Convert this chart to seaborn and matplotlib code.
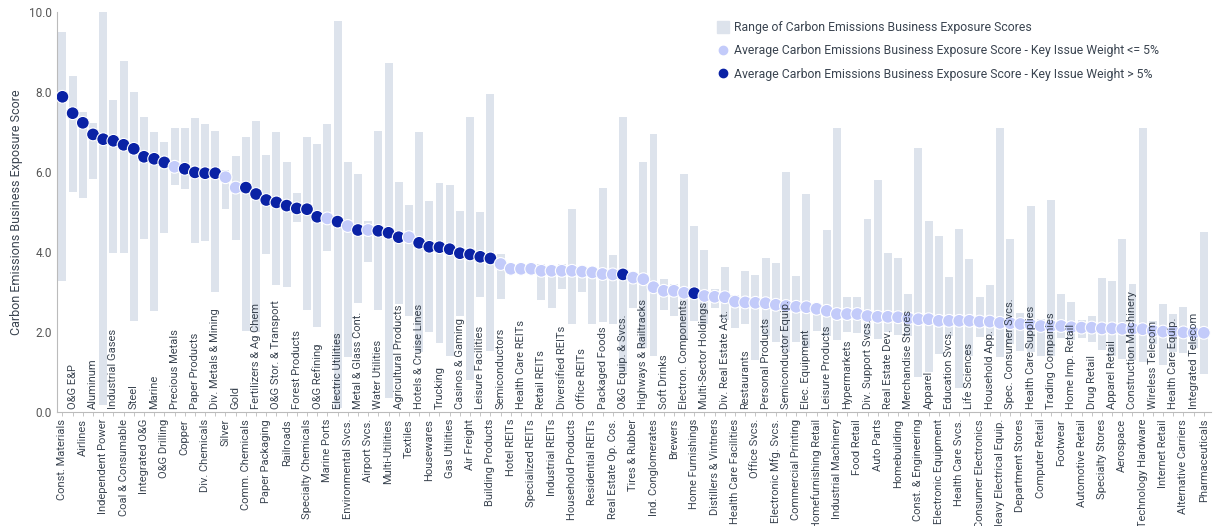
import numpy as np
import pandas as pd
import matplotlib
matplotlib.use("Agg")
import matplotlib.pyplot as plt
import matplotlib.transforms as mtransforms
from matplotlib.lines import Line2D
import seaborn as sns

# industries, in chart order (sorted by average score)
industries = [
    "Const. Materials", "O&G E&P", "Airlines", "Aluminum", "Independent Power",
    "Industrial Gases", "Coal & Consumable", "Steel", "Integrated O&G", "Marine",
    "O&G Drilling", "Precious Metals", "Copper", "Paper Products", "Div. Chemicals",
    "Div. Metals & Mining", "Silver", "Gold", "Comm. Chemicals", "Fertilizers & Ag Chem",
    "Paper Packaging", "O&G Stor. & Transport", "Railroads", "Forest Products",
    "Specialty Chemicals", "O&G Refining", "Marine Ports", "Electric Utilities",
    "Environmental Svcs.", "Metal & Glass Cont.", "Airport Svcs.", "Water Utilities",
    "Multi-Utilities", "Agricultural Products", "Textiles", "Hotels & Cruise Lines",
    "Housewares", "Trucking", "Gas Utilities", "Casinos & Gaming", "Air Freight",
    "Leisure Facilities", "Building Products", "Semiconductors", "Hotel REITs",
    "Health Care REITs", "Specialized REITs", "Retail REITs", "Industrial REITs",
    "Diversified REITs", "Household Products", "Office REITs", "Residential REITs",
    "Packaged Foods", "Real Estate Op. Cos.", "O&G Equip. & Svcs.", "Tires & Rubber",
    "Highways & Railtracks", "Ind. Conglomerates", "Soft Drinks", "Brewers",
    "Electron. Components", "Home Furnishings", "Multi-Sector Holdings",
    "Distillers & Vintners", "Div. Real Estate Act.", "Health Care Facilities",
    "Restaurants", "Office Svcs.", "Personal Products", "Electronic Mfg. Svcs.",
    "Semiconductor Equip.", "Commercial Printing", "Elec. Equipment",
    "Homefurnishing Retail", "Leisure Products", "Industrial Machinery", "Hypermarkets",
    "Food Retail", "Div. Support Svcs.", "Auto Parts", "Real Estate Dev.", "Homebuilding",
    "Merchandise Stores", "Const. & Engineering", "Apparel", "Electronic Equipment",
    "Education Svcs.", "Health Care Svcs.", "Life Sciences", "Consumer Electronics",
    "Household App.", "Heavy Electrical Equip.", "Spec. Consumer Svcs.",
    "Department Stores", "Health Care Supplies", "Computer Retail", "Trading Companies",
    "Footwear", "Home Imp. Retail", "Automotive Retail", "Drug Retail", "Specialty Stores",
    "Apparel Retail", "Aerospace", "Construction Machinery", "Technology Hardware",
    "Wireless Telecom", "Internet Retail", "Health Care Equip.", "Alternative Carriers",
    "Integrated Telecom", "Pharmaceuticals",
]

range_low = [
    3.28, 5.51, 5.36, 5.83, 0.18, 3.98, 3.97, 2.28, 4.33, 2.53,
    4.47, 5.68, 5.57, 4.23, 4.28, 3.01, 5.08, 4.30, 2.03, 2.00,
    3.95, 3.18, 3.12, 4.75, 2.55, 2.13, 4.03, 0.10, 1.37, 2.72,
    3.74, 2.55, 0.34, 2.70, 2.41, 1.50, 2.00, 1.73, 1.40, 2.40,
    0.80, 2.88, 1.53, 2.83, 3.50, 3.50, 3.48, 2.80, 2.59, 3.08,
    2.19, 2.99, 2.19, 2.24, 2.19, 1.00, 2.60, 1.60, 1.40, 2.55,
    2.41, 1.80, 2.28, 2.20, 2.60, 2.30, 2.09, 2.20, 1.30, 1.90,
    1.74, 1.50, 1.76, 1.60, 2.03, 1.90, 1.80, 2.00, 1.97, 1.90,
    1.83, 2.00, 1.93, 1.90, 0.88, 1.00, 1.46, 1.90, 0.59, 1.40,
    1.88, 1.90, 1.37, 1.70, 1.52, 1.50, 1.39, 1.40, 1.84, 1.80,
    1.84, 1.76, 1.54, 1.40, 1.33, 1.30, 1.24, 1.70, 1.18, 1.50,
    1.47, 1.60, 0.95,
]

range_high = [
    9.49, 8.40, 7.50, 7.23, 10.0, 7.80, 8.78, 8.00, 7.38, 7.00,
    6.76, 7.10, 7.10, 7.36, 7.20, 7.03, 6.05, 6.39, 6.88, 7.28,
    6.43, 6.99, 6.26, 5.48, 6.88, 6.70, 7.20, 9.78, 6.24, 5.95,
    4.78, 7.03, 8.72, 5.74, 5.18, 6.99, 5.27, 5.73, 5.68, 5.03,
    7.38, 5.00, 7.95, 3.95, 3.65, 3.65, 3.66, 3.70, 3.62, 3.70,
    5.07, 3.60, 3.60, 5.61, 3.93, 7.38, 3.51, 6.26, 6.95, 3.33,
    3.20, 5.95, 4.65, 4.05, 3.07, 3.62, 2.93, 3.53, 3.43, 3.86,
    3.72, 6.01, 3.41, 5.44, 2.73, 4.55, 7.11, 2.88, 2.88, 4.83,
    5.79, 3.97, 3.84, 2.94, 6.59, 4.78, 4.40, 3.37, 4.57, 3.82,
    2.88, 3.18, 7.09, 4.33, 2.48, 5.16, 2.32, 5.30, 2.95, 2.74,
    2.30, 2.40, 3.36, 3.28, 4.33, 3.20, 7.11, 2.28, 2.70, 2.45,
    2.62, 2.10, 4.49,
]

avg_score = [
    7.88, 7.47, 7.23, 6.94, 6.82, 6.78, 6.68, 6.58, 6.38, 6.33,
    6.24, 6.13, 6.08, 5.99, 5.97, 5.97, 5.87, 5.61, 5.61, 5.45,
    5.30, 5.24, 5.16, 5.09, 5.07, 4.88, 4.84, 4.76, 4.65, 4.55,
    4.55, 4.53, 4.48, 4.37, 4.37, 4.23, 4.13, 4.12, 4.07, 3.97,
    3.94, 3.88, 3.84, 3.70, 3.58, 3.58, 3.58, 3.53, 3.53, 3.53,
    3.53, 3.51, 3.49, 3.45, 3.44, 3.44, 3.36, 3.32, 3.12, 3.03,
    3.03, 2.98, 2.97, 2.90, 2.88, 2.87, 2.76, 2.74, 2.73, 2.72,
    2.68, 2.65, 2.63, 2.62, 2.58, 2.53, 2.45, 2.45, 2.45, 2.40,
    2.38, 2.38, 2.37, 2.34, 2.32, 2.32, 2.28, 2.28, 2.28, 2.28,
    2.26, 2.26, 2.23, 2.22, 2.20, 2.18, 2.15, 2.15, 2.15, 2.12,
    2.11, 2.11, 2.09, 2.09, 2.08, 2.08, 2.07, 2.03, 2.01, 2.01,
    1.99, 1.98, 1.98,
]

# industries where the key issue weight is above 5%
high_weight = {
    "Const. Materials", "O&G E&P", "Airlines", "Aluminum", "Independent Power",
    "Industrial Gases", "Coal & Consumable", "Steel", "Integrated O&G", "Marine",
    "O&G Drilling", "Copper", "Paper Products", "Div. Chemicals", "Div. Metals & Mining",
    "Comm. Chemicals", "Fertilizers & Ag Chem", "Paper Packaging", "O&G Stor. & Transport",
    "Railroads", "Forest Products", "Specialty Chemicals", "O&G Refining",
    "Electric Utilities", "Metal & Glass Cont.", "Water Utilities", "Multi-Utilities",
    "Agricultural Products", "Hotels & Cruise Lines", "Housewares", "Trucking",
    "Gas Utilities", "Casinos & Gaming", "Air Freight", "Leisure Facilities",
    "Building Products", "O&G Equip. & Svcs.", "Home Furnishings",
}

LOW_LABEL = "Average Carbon Emissions Business Exposure Score - Key Issue Weight <= 5%"
HIGH_LABEL = "Average Carbon Emissions Business Exposure Score - Key Issue Weight > 5%"
RANGE_LABEL = "Range of Carbon Emissions Business Exposure Scores"

df = pd.DataFrame({
    "industry": industries,
    "low": range_low,
    "high": range_high,
    "avg": avg_score,
})
df["pos"] = np.arange(len(df))
df["weight"] = np.where(df["industry"].isin(high_weight), HIGH_LABEL, LOW_LABEL)

bar_color = "#dde3ec"
light_dot = "#c3cbfa"
dark_dot = "#0a22a5"
text_color = "#3a4450"

sns.set_theme(style="white")
plt.rcParams["font.family"] = ["Roboto", "DejaVu Sans"]

fig = plt.figure(figsize=(12.2, 5.26), dpi=100)
ax = fig.add_axes([0.047, 0.2167, 0.946, 0.7605])

ax.bar(df["pos"], df["high"] - df["low"], bottom=df["low"], width=0.78,
       color=bar_color, linewidth=0, zorder=1)

sns.scatterplot(
    data=df, x="pos", y="avg", hue="weight",
    palette={LOW_LABEL: light_dot, HIGH_LABEL: dark_dot},
    s=85, edgecolor="white", linewidth=0.8, legend=False, ax=ax, zorder=3,
)

ax.set_xlim(-0.5, len(df) - 0.25)
ax.set_ylim(0, 10)
ax.set_yticks(np.arange(0, 10.1, 2))
ax.set_yticklabels([f"{v:.1f}" for v in np.arange(0, 10.1, 2)], fontsize=8.5, color="#555555")
ax.set_ylabel("Carbon Emissions Business Exposure Score", fontsize=9, color=text_color)
ax.set_xlabel("")

# every category gets a tick; labels alternate between below the axis and inside the plot
ax.set_xticks(df["pos"])
ax.set_xticklabels([name if i % 2 == 0 else "" for i, name in enumerate(industries)],
                   rotation=90, fontsize=8, color=text_color)
ax.tick_params(axis="x", length=3, width=0.6, color="#bbbbbb", pad=2, bottom=True)
ax.tick_params(axis="y", length=0, pad=4)

trans = mtransforms.blended_transform_factory(ax.transData, ax.transAxes)
for i, name in enumerate(industries):
    if i % 2 == 1:
        ax.text(i, 0.008, name, rotation=90, ha="center", va="bottom",
                fontsize=8, color=text_color, transform=trans, zorder=5)

for side in ["top", "right"]:
    ax.spines[side].set_visible(False)
for side in ["left", "bottom"]:
    ax.spines[side].set_color("#bbbbbb")
    ax.spines[side].set_linewidth(0.8)

handles = [
    Line2D([], [], marker="s", linestyle="", markersize=8, color=bar_color),
    Line2D([], [], marker="o", linestyle="", markersize=6, color=light_dot),
    Line2D([], [], marker="o", linestyle="", markersize=6, color=dark_dot),
]
ax.legend(handles, [RANGE_LABEL, LOW_LABEL, HIGH_LABEL], loc="upper left",
          bbox_to_anchor=(0.567, 0.99), frameon=False, fontsize=8.8,
          labelcolor=text_color, handletextpad=0.45, labelspacing=0.85,
          handlelength=1.0, borderaxespad=0)

fig.savefig("out.png", dpi=100)
plt.close(fig)
